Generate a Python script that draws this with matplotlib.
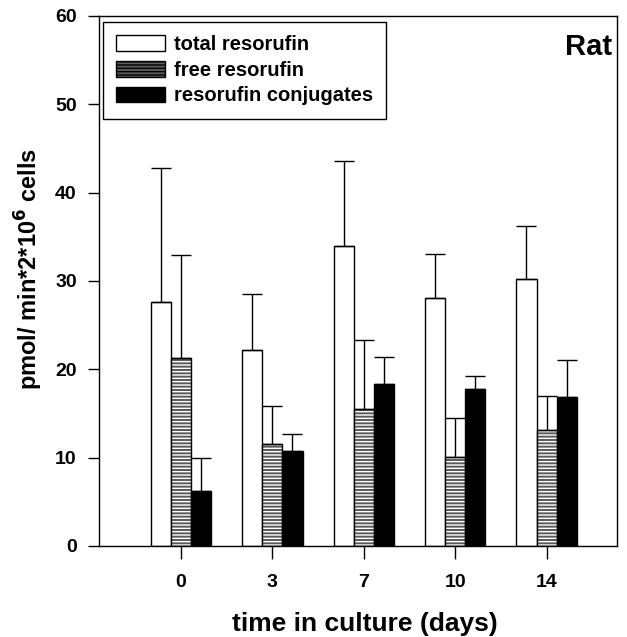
import matplotlib
matplotlib.use("Agg")
import matplotlib.pyplot as plt
from matplotlib.patches import Patch
import numpy as np

days = ["0", "3", "7", "10", "14"]
total = [27.6, 22.2, 34.0, 28.1, 30.2]
total_err = [15.2, 6.3, 9.6, 4.9, 6.0]
free = [21.3, 11.5, 15.5, 10.1, 13.1]
free_err = [11.6, 4.3, 7.8, 4.4, 3.9]
conj = [6.2, 10.7, 18.3, 17.8, 16.9]
conj_err = [3.8, 2.0, 3.1, 1.4, 4.1]

plt.rcParams["font.family"] = ["Liberation Sans", "DejaVu Sans"]
plt.rcParams["font.weight"] = "bold"
plt.rcParams["mathtext.default"] = "bf"

fig = plt.figure(figsize=(6.27, 6.37), dpi=100)
ax = fig.add_axes([0.158, 0.143, 0.826, 0.832])

x = np.arange(len(days))
w = 0.22
ekw = dict(ecolor="black", elinewidth=1.0, capsize=7.5, capthick=1.0)
zeros = np.zeros(len(days))

ax.bar(x - w, total, w, color="white", edgecolor="black", linewidth=1.0)
ax.errorbar(x - w, total, yerr=[zeros, total_err], fmt="none", **ekw)

# striped bars: grey fill with white horizontal hatch, black outline on top
ax.bar(x, free, w, color="#5a5a5a", edgecolor="white", hatch="-----", linewidth=0)
ax.bar(x, free, w, fill=False, edgecolor="black", linewidth=1.0)
ax.errorbar(x, free, yerr=[zeros, free_err], fmt="none", **ekw)

ax.bar(x + w, conj, w, color="black", edgecolor="black", linewidth=1.0)
ax.errorbar(x + w, conj, yerr=[zeros, conj_err], fmt="none", **ekw)

ax.set_xlim(-0.896, 4.77)
ax.set_ylim(0, 60)
ax.set_yticks(range(0, 61, 10))
ax.set_xticks(x)
ax.set_xticklabels(days)
ax.tick_params(axis="y", direction="out", length=8, width=1, labelsize=14, pad=8)
ax.tick_params(axis="x", direction="out", length=9, width=1, labelsize=14, pad=11)
for s in ax.spines.values():
    s.set_linewidth(1.0)

ax.set_xlabel("time in culture (days)", fontsize=19, fontweight="bold")
ax.xaxis.set_label_coords(0.513, -0.125)
ax.set_ylabel(r"pmol/ min*2*10$^{6}$ cells", fontsize=17, fontweight="bold")
ax.yaxis.set_label_coords(-0.104, 0.523)

handles = [
    Patch(facecolor="white", edgecolor="black", label="total resorufin"),
    Patch(facecolor="#5a5a5a", edgecolor="black", hatch="-----", label="free resorufin"),
    Patch(facecolor="black", edgecolor="black", label="resorufin conjugates"),
]
leg = ax.legend(handles=handles, loc="upper left", prop={"size": 14.5, "weight": "bold"},
                frameon=True, fancybox=False, edgecolor="black", framealpha=1,
                handlelength=2.4, handleheight=0.8, handletextpad=0.45,
                borderpad=0.65, labelspacing=0.33, borderaxespad=0.2,
                bbox_to_anchor=(0.0, 0.996))
leg.get_frame().set_linewidth(1.0)

ax.text(0.99, 0.967, "Rat", transform=ax.transAxes, ha="right", va="top",
        fontsize=21, fontweight="bold")

fig.savefig("out.png", dpi=100)
